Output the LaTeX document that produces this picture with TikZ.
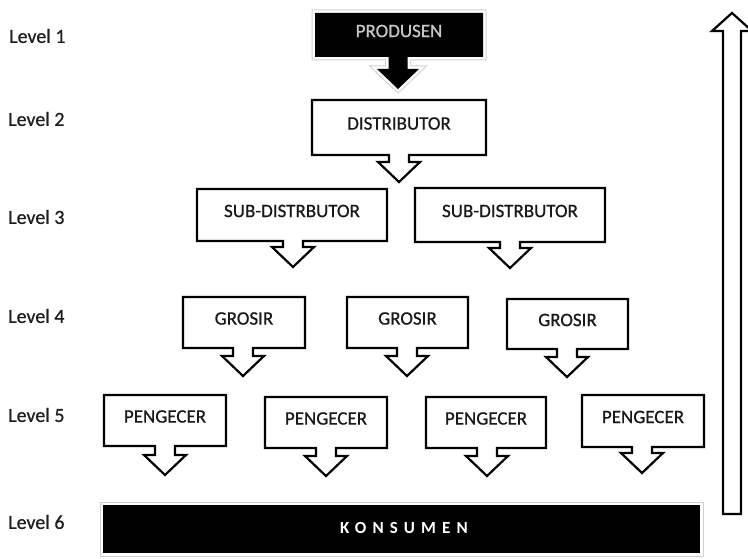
\documentclass[tikz,border=0pt]{standalone}
\usepackage{fontspec}
\setmainfont{Carlito}[FakeBold=0.7]
\newfontfamily\spacedfont[LetterSpace=36]{Carlito}
\tikzset{
  cbox/.style={draw=black, line width=2.2pt, fill=white, line join=miter},
  btext/.style={font=\fontsize{19}{22}\selectfont, text=black!90, inner sep=0pt},
  lvl/.style={font=\fontsize{20}{22}\selectfont, text=black!88, anchor=west, inner sep=0pt},
  halo/.style={draw=black!18, line width=7pt},
  haloin/.style={draw=white, line width=5pt},
}
\newcommand\callout[8]{%
  \draw[cbox] (#1,#2) -- (#3,#2) -- (#3,#4) -- ({#5+10},#4) -- ({#5+10},{#6-20}) -- ({#5+21},{#6-20}) -- (#5,#6) -- ({#5-21},{#6-20}) -- ({#5-10},{#6-20}) -- ({#5-10},#4) -- (#1,#4) -- cycle;
  \node[btext] (#7) at ({(#1+#3)/2},{(#2+#4)/2-4}) {#8};}
\begin{document}
\begin{tikzpicture}[x=1pt,y=-1pt]
\clip (0,0) rectangle (748,559);
\fill[white] (0,0) rectangle (748,559);
% level labels
\node[lvl] (l1) at (9,36) {Level 1};
\node[lvl] (l2) at (8,119) {Level 2};
\node[lvl] (l3) at (8,217) {Level 3};
\node[lvl] (l4) at (8,316) {Level 4};
\node[lvl] (l5) at (8,415) {Level 5};
\node[lvl] (l6) at (8,522) {Level 6};
% produsen
\def\prodpath{(315,13) -- (483,13) -- (483,57) -- (407.5,57) -- (407.5,69) -- (419,69) -- (398,89) -- (377,69) -- (388.5,69) -- (388.5,57) -- (315,57) -- cycle}
\draw[halo] \prodpath;
\draw[haloin] \prodpath;
\fill[black] \prodpath;
\node[btext, text=black!22] (prod) at (399,31) {PRODUSEN};
% level 2
\callout{312}{100}{486}{155}{399}{182}{dist}{DISTRIBUTOR}
% level 3
\callout{197}{189}{387}{241}{293}{267}{sub1}{SUB-DISTRBUTOR}
\callout{415}{188}{605}{242}{510}{268}{sub2}{SUB-DISTRBUTOR}
% level 4
\callout{183}{297}{305}{348}{243}{376}{gro1}{GROSIR}
\callout{347}{297}{468}{348}{407}{376}{gro2}{GROSIR}
\callout{507}{299}{628}{349}{567}{377}{gro3}{GROSIR}
% level 5
\callout{104}{395}{226}{446}{165}{475}{pen1}{PENGECER}
\callout{265}{397}{387}{448}{326}{476}{pen2}{PENGECER}
\callout{426}{397}{546}{448}{487}{476}{pen3}{PENGECER}
\callout{582}{395}{704}{447}{642}{473}{pen4}{PENGECER}
% konsumen
\draw[halo] (103,505) rectangle (700,553);
\draw[haloin] (103,505) rectangle (700,553);
\fill[black] (103,505) rectangle (700,553);
\node[font=\spacedfont\bfseries\fontsize{17}{20}\selectfont, text=white, inner sep=0pt] (kons) at (404,528) {KONSUMEN};
% big upward arrow
\draw[cbox] (723,514) -- (741,514) -- (741,31) -- (752,31) -- (732,13) -- (712,31) -- (723,31) -- cycle;
\end{tikzpicture}
\end{document}
